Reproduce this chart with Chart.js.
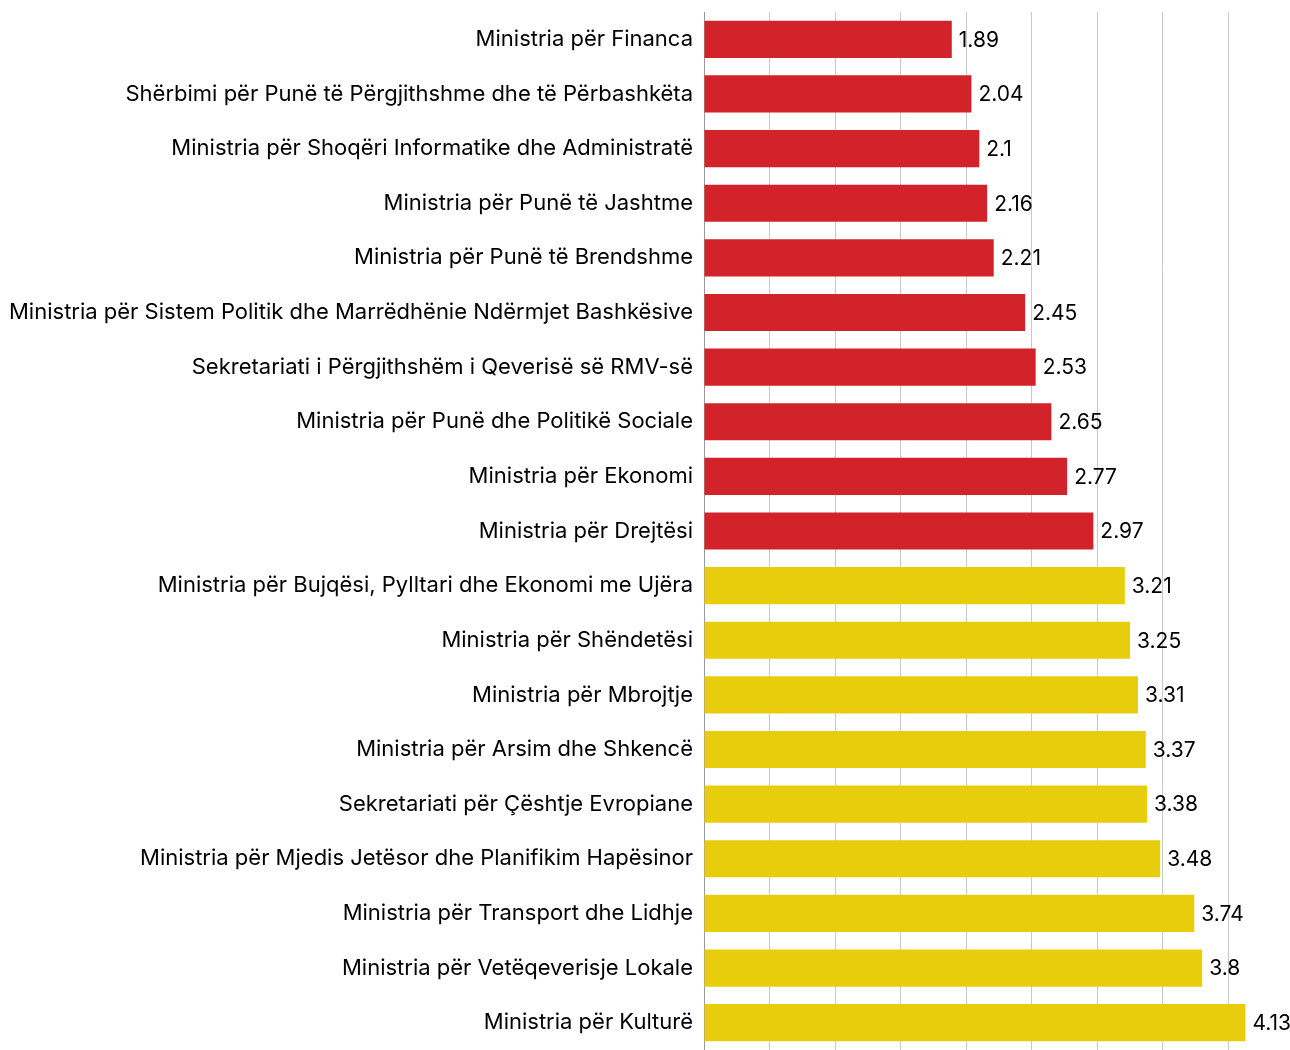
<!DOCTYPE html>
<html>
<head>
<meta charset="utf-8">
<script src="https://cdn.jsdelivr.net/npm/chart.js@4/dist/chart.umd.min.js"></script>
<style>
  body { margin: 0; background: #fff; }
  #wrap { width: 1290px; height: 1050px; }
</style>
</head>
<body>
<div id="wrap"><canvas id="c"></canvas></div>
<script>
const labels = [
  'Ministria për Financa',
  'Shërbimi për Punë të Përgjithshme dhe të Përbashkëta',
  'Ministria për Shoqëri Informatike dhe Administratë',
  'Ministria për Punë të Jashtme',
  'Ministria për Punë të Brendshme',
  'Ministria për Sistem Politik dhe Marrëdhënie Ndërmjet Bashkësive',
  'Sekretariati i Përgjithshëm i Qeverisë së RMV-së',
  'Ministria për Punë dhe Politikë Sociale',
  'Ministria për Ekonomi',
  'Ministria për Drejtësi',
  'Ministria për Bujqësi, Pylltari dhe Ekonomi me Ujëra',
  'Ministria për Shëndetësi',
  'Ministria për Mbrojtje',
  'Ministria për Arsim dhe Shkencë',
  'Sekretariati për Çështje Evropiane',
  'Ministria për Mjedis Jetësor dhe Planifikim Hapësinor',
  'Ministria për Transport dhe Lidhje',
  'Ministria për Vetëqeverisje Lokale',
  'Ministria për Kulturë'
];
const scores = [1.89, 2.04, 2.1, 2.16, 2.21, 2.45, 2.53, 2.65, 2.77, 2.97,
                3.21, 3.25, 3.31, 3.37, 3.38, 3.48, 3.74, 3.8, 4.13];
const threshold = 3;
const red = '#d2232a';
const yellow = '#e8cd0c';

const valueLabels = {
  id: 'valueLabels',
  afterDatasetsDraw(chart) {
    const ctx = chart.ctx;
    const meta = chart.getDatasetMeta(0);
    ctx.save();
    ctx.font = '21px Inter, "Noto Sans", sans-serif';
    ctx.fillStyle = '#000';
    ctx.textAlign = 'left';
    ctx.textBaseline = 'middle';
    meta.data.forEach((bar, i) => {
      ctx.fillText(String(scores[i]), bar.x + 7, bar.y + 1);
    });
    ctx.restore();
  }
};

new Chart(document.getElementById('c'), {
  type: 'bar',
  data: {
    labels: labels,
    datasets: [{
      data: scores,
      backgroundColor: scores.map(v => v < threshold ? red : yellow),
      barPercentage: 0.68,
      categoryPercentage: 1.0
    }]
  },
  options: {
    indexAxis: 'y',
    responsive: true,
    maintainAspectRatio: false,
    animation: false,
    layout: { padding: { top: 12, right: 0, bottom: 0, left: 0 } },
    plugins: { legend: { display: false }, tooltip: { enabled: false } },
    scales: {
      x: {
        min: 0,
        max: 4.47,
        afterFit(scale) {
          scale.height = 0;
          scale.paddingLeft = 0; scale.paddingRight = 0;
        },
        ticks: { display: false, stepSize: 0.5 },
        grid: { color: '#c8c8c8', lineWidth: 1, drawTicks: false },
        border: { display: false }
      },
      y: {
        afterFit(scale) {
          scale.width = 704;
          scale.paddingTop = 0; scale.paddingBottom = 0;
        },
        grid: { display: false, drawTicks: false },
        border: { display: true, color: '#999', width: 1 },
        ticks: {
          padding: 11,
          color: '#000',
          font: { family: 'Inter, "Noto Sans", sans-serif', size: 22 }
        }
      }
    }
  },
  plugins: [valueLabels]
});
</script>
</body>
</html>
